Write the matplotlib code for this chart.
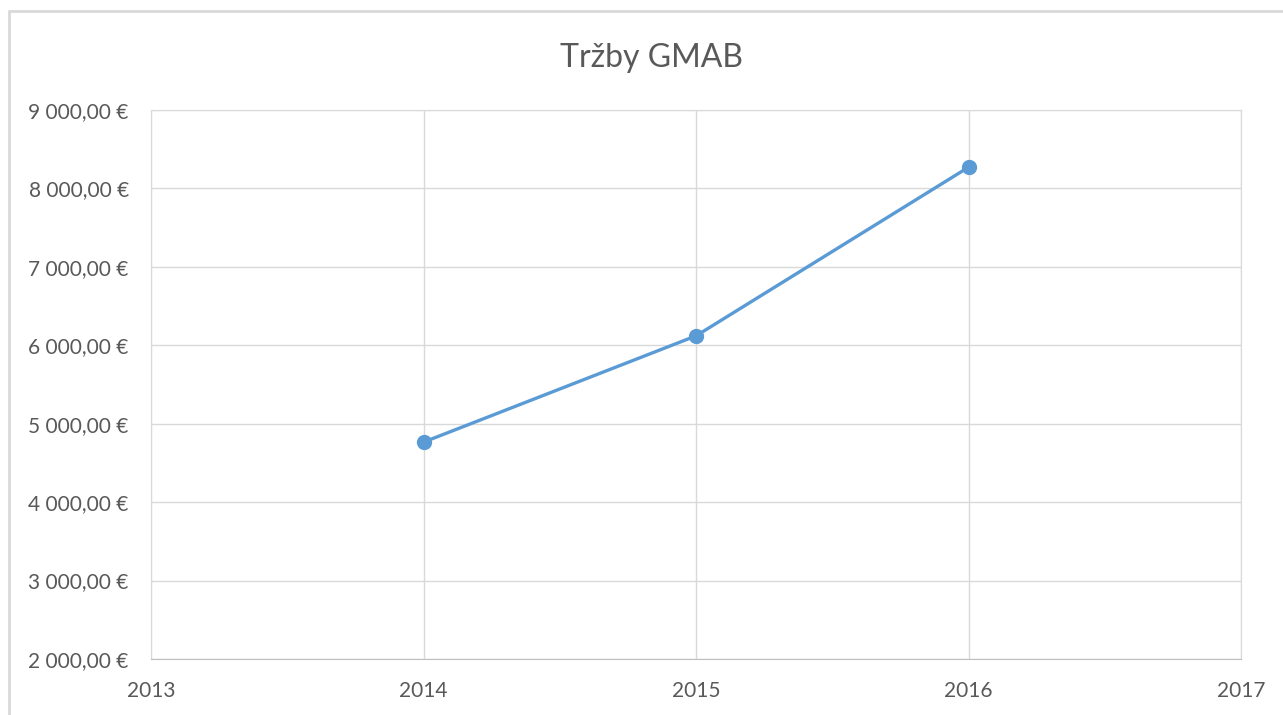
import matplotlib.pyplot as plt
from matplotlib.patches import Rectangle
from matplotlib.ticker import FuncFormatter

years = [2014, 2015, 2016]
trzby = [4765, 6120, 8270]
title = 'Tržby GMAB'

plt.rcParams['font.family'] = ['Lato', 'DejaVu Sans']

fig = plt.figure(figsize=(12.83, 7.15), dpi=100)
ax = fig.add_axes([151/1283, 1 - 659/715, (1241 - 151)/1283, (659 - 110)/715])

# ram okolo grafu
fig.patches.append(Rectangle((9/1283, -0.1), 1.2, 1 - 11/715 + 0.1, transform=fig.transFigure,
                             fill=False, edgecolor='#d9d9d9', linewidth=2))

ax.plot(years, trzby, color='#5b9bd5', linewidth=2.4, marker='o', markersize=10, zorder=3)

ax.set_xlim(2013, 2017)
ax.set_ylim(2000, 9000)
ax.set_xticks([2013, 2014, 2015, 2016, 2017])
ax.set_yticks(range(2000, 9001, 1000))


def euro(v, pos):
    return f'{int(v):,}'.replace(',', ' ') + ',00 €'


ax.yaxis.set_major_formatter(FuncFormatter(euro))
ax.grid(True, color='#d9d9d9', linewidth=1)
ax.set_axisbelow(True)
for s in ['top', 'right', 'left']:
    ax.spines[s].set_color('#d9d9d9')
ax.spines['bottom'].set_color('#bfbfbf')
ax.tick_params(length=0, labelsize=15, colors='#595959')
ax.tick_params(axis='x', pad=16)
ax.tick_params(axis='y', pad=16)

fig.text(651/1283, 1 - 58/715, title, ha='center', va='center', fontsize=23, color='#595959')

fig.savefig('out.png', dpi=100)
